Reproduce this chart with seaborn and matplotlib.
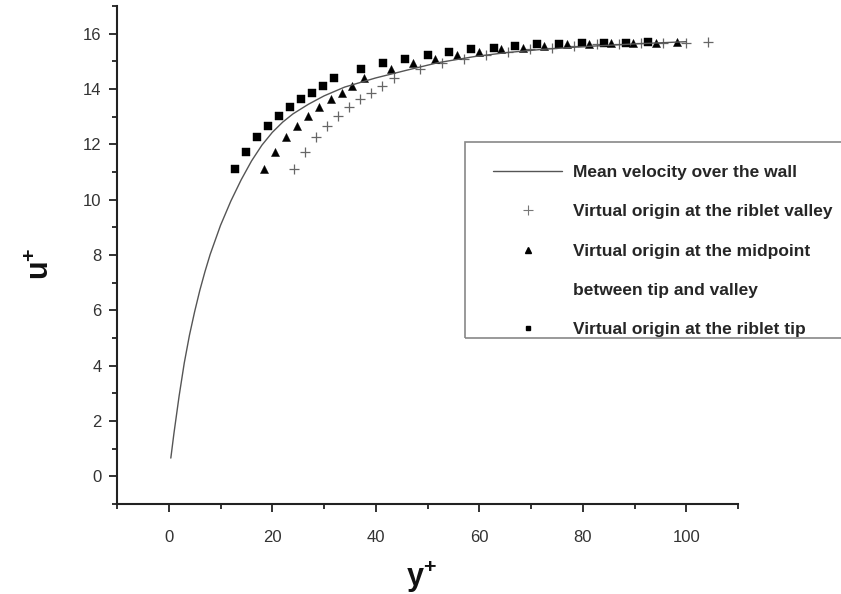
import matplotlib
matplotlib.use("Agg")
import matplotlib.pyplot as plt
from matplotlib.lines import Line2D
from matplotlib.patches import Rectangle
from matplotlib.ticker import MultipleLocator
import seaborn as sns
import pandas as pd

# Mean velocity profile over the smooth wall
y_wall = [0.4, 1, 2, 3, 4, 5, 6, 7, 8, 10, 12, 14, 16, 18, 20, 22, 24, 27,
          30, 34, 40, 46, 52, 59, 65, 72, 80, 90, 100]
u_wall = [0.66, 1.55, 2.9, 4.1, 5.1, 5.95, 6.72, 7.4, 8.02, 9.07, 9.95,
          10.72, 11.4, 11.97, 12.43, 12.8, 13.1, 13.45, 13.75, 14.07, 14.4,
          14.68, 14.95, 15.17, 15.31, 15.43, 15.53, 15.63, 15.71]

# Riblet profile, u+ at each measurement station
u_riblet = [11.12, 11.73, 12.25, 12.66, 13.02, 13.35, 13.63, 13.87, 14.10,
            14.38, 14.71, 14.93, 15.10, 15.22, 15.34, 15.43, 15.50, 15.56,
            15.61, 15.64, 15.66, 15.67, 15.68, 15.70]

# y+ of the same stations for three choices of virtual origin
yplus_tip = [12.8, 14.9, 17.0, 19.1, 21.3, 23.4, 25.5, 27.7, 29.8, 32.0,
             37.1, 41.4, 45.7, 50.0, 54.2, 58.5, 62.8, 67.0, 71.2, 75.5,
             79.8, 84.1, 88.4, 92.7]
yplus_mid = [18.5, 20.6, 22.7, 24.8, 27.0, 29.1, 31.3, 33.4, 35.5, 37.7,
             43.0, 47.2, 51.4, 55.7, 60.0, 64.2, 68.4, 72.6, 76.9, 81.2,
             85.5, 89.8, 94.1, 98.3]
yplus_valley = [24.2, 26.3, 28.4, 30.5, 32.7, 34.9, 37.0, 39.1, 41.3, 43.5,
                48.6, 52.8, 57.1, 61.4, 65.6, 69.9, 74.1, 78.4, 82.7, 87.0,
                91.3, 95.6, 99.9, 104.2]

legend_labels = ["Mean velocity over the wall",
                 "Virtual origin at the riblet valley",
                 "Virtual origin at the midpoint",
                 "between tip and valley",
                 "Virtual origin at the riblet tip"]

sns.set_theme(style="ticks")
plt.rcParams["font.family"] = ["Liberation Sans", "DejaVu Sans"]
plt.rcParams["mathtext.fontset"] = "custom"
plt.rcParams["mathtext.bf"] = "Liberation Sans:bold"
plt.rcParams["mathtext.rm"] = "Liberation Sans"

fig = plt.figure(figsize=(8.41, 5.94), dpi=100)
ax = fig.add_axes([117 / 841, 90 / 594, 621 / 841, 498 / 594])

wall = pd.DataFrame({"y": y_wall, "u": u_wall})
sns.lineplot(data=wall, x="y", y="u", ax=ax, color="#555555", lw=1.0,
             sort=False, estimator=None)

sns.scatterplot(x=yplus_valley, y=u_riblet, ax=ax, marker="+", s=60,
                color="#666666", linewidth=0.9, legend=False)
sns.scatterplot(x=yplus_mid, y=u_riblet, ax=ax, marker="^", s=34,
                color="black", edgecolor="black", linewidth=0.3, legend=False)
sns.scatterplot(x=yplus_tip, y=u_riblet, ax=ax, marker="s", s=30,
                color="black", edgecolor="black", linewidth=0.3, legend=False)

ax.set_xlim(-10, 110)
ax.set_ylim(-1, 17)
ax.xaxis.set_major_locator(MultipleLocator(20))
ax.xaxis.set_minor_locator(MultipleLocator(10))
ax.yaxis.set_major_locator(MultipleLocator(2))
ax.yaxis.set_minor_locator(MultipleLocator(1))
ax.tick_params(which="major", direction="out", length=6, width=1.3,
               color="#222222", labelsize=12, labelcolor="#333333", pad=5)
ax.tick_params(which="minor", direction="out", length=3.5, width=1.3,
               color="#222222")
ax.tick_params(axis="x", which="major", pad=13)
for side in ("left", "bottom"):
    ax.spines[side].set_linewidth(1.5)
    ax.spines[side].set_color("#222222")
sns.despine(ax=ax)

ax.set_xlabel(r"$\mathbf{y}^{\mathbf{+}}$", fontsize=22, color="#111111")
ax.set_ylabel(r"$\mathbf{u}^{\mathbf{+}}$", fontsize=22, color="#111111")
ax.xaxis.set_label_coords(0.491, -0.148)
ax.yaxis.set_label_coords(-0.123, 0.482)
ax.xaxis.label.set_va("center")
ax.yaxis.label.set_va("center")

handles = [
    Line2D([], [], color="#555555", lw=1.0),
    Line2D([], [], ls="", marker="+", color="#777777", ms=7, mew=0.8),
    Line2D([], [], ls="", marker="^", color="black", ms=4),
    Line2D([], [], ls="", marker=""),
    Line2D([], [], ls="", marker="s", color="black", ms=3.5),
]
fig.legend(handles, legend_labels, loc="upper left",
           bbox_to_anchor=(493 / 841, 1 - 165 / 594),
           bbox_transform=fig.transFigure, frameon=False, borderpad=0,
           borderaxespad=0, handlelength=4.0, handletextpad=0.63,
           labelspacing=1.39, prop={"weight": "bold", "size": 12.5})
fig.add_artist(Rectangle((465 / 841, 256 / 594), 420 / 841, 196 / 594,
                         transform=fig.transFigure, fill=False,
                         edgecolor="#888888", lw=1.2, clip_on=False))

fig.savefig("out.png", dpi=100)
